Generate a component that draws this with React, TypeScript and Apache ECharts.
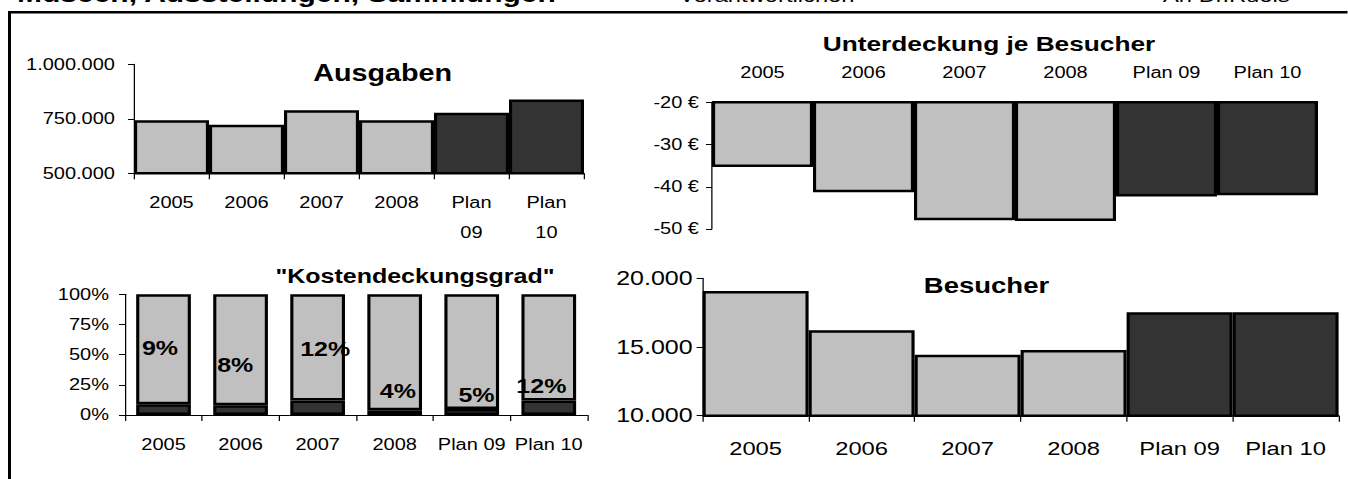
import React, { useEffect, useRef } from "react";
import * as echarts from "echarts";

// ---------- data ----------
const categories = ["2005", "2006", "2007", "2008", "Plan 09", "Plan 10"];
const ausgaben = [743000, 723000, 789000, 743000, 778000, 838000];
const unterdeckungJeBesucher = [-35.3, -41.3, -47.9, -48.1, -42.3, -42.0];
const kostendeckungsgrad = [9, 8, 12, 4, 5, 12];
const ungedeckt = [91, 92, 88, 96, 95, 88];
const besucher = [19075, 16215, 14440, 14780, 17525, 17525];

const headerTitle = "Museen, Ausstellungen, Sammlungen";
const headerMiddle = "Verantwortlichen";
const headerRight = "An Dr.Ruels";

// ---------- styling ----------
const S = 1.25; // horizontal stretch of the original picture
const W = 1348 / S;
const H = 479;
const X = (v: number) => v / S;
const FONT = "'Liberation Sans', Arial, Helvetica, sans-serif";
const LIGHT = "#C0C0C0";
const DARK = "#333333";
const BLACK = "#000000";

// label placement for "Kostendeckungsgrad" (real px: dx from bar centre, dy from 100% line)
const KD_LABEL_DX = [-3.6, -5.3, 7.6, 3.2, 4.7, -7.4];
const KD_LABEL_DY = [54, 70.7, 54.7, 97.4, 101.4, 92.4];

const thousands = (v: number) =>
  String(Math.round(v)).replace(/\B(?=(\d{3})+(?!\d))/g, ".");

const barColor = (p: any) =>
  categories[p.dataIndex].startsWith("Plan") ? DARK : LIGHT;

const barItem = {
  color: barColor,
  borderColor: BLACK,
  borderWidth: 2.5,
};

const catAxisBase = (gridIndex: number) => ({
  gridIndex,
  type: "category" as const,
  data: categories,
  boundaryGap: true,
  axisLine: { show: true, onZero: false, lineStyle: { color: BLACK, width: 1 } },
  axisTick: { show: true, length: 6, interval: 0, lineStyle: { color: BLACK, width: 1 } },
  splitLine: { show: false },
});

const valAxisBase = (gridIndex: number) => ({
  gridIndex,
  type: "value" as const,
  splitLine: { show: false },
  axisLine: { show: true, lineStyle: { color: BLACK, width: 1 } },
  axisTick: { show: true, length: X(6), lineStyle: { color: BLACK, width: 1 } },
});

const option: any = {
  animation: false,
  backgroundColor: "#ffffff",
  textStyle: { fontFamily: FONT, color: BLACK },
  grid: [
    { left: X(134), top: 64.3, width: X(450), height: 109, containLabel: false },
    { left: X(712), top: 102.3, width: X(606), height: 126.7, containLabel: false },
    { left: X(125), top: 294.3, width: X(462.3), height: 120.7, containLabel: false },
    { left: X(702.6), top: 278.3, width: X(636), height: 137.4, containLabel: false },
  ],
  xAxis: [
    {
      ...catAxisBase(0),
      axisLabel: {
        interval: 0,
        formatter: (v: string) => v.replace(" ", "\n"),
        fontSize: 16,
        lineHeight: 30,
        margin: 14,
        color: BLACK,
        fontFamily: FONT,
      },
    },
    {
      ...catAxisBase(1),
      position: "top",
      axisLine: { show: false },
      axisTick: { show: false },
      axisLabel: { interval: 0, fontSize: 16, lineHeight: 16, margin: 21.6, color: BLACK, fontFamily: FONT },
    },
    {
      ...catAxisBase(2),
      axisLabel: { interval: 0, fontSize: 16, lineHeight: 16, margin: 22, color: BLACK, fontFamily: FONT },
    },
    {
      ...catAxisBase(3),
      axisLabel: { interval: 0, fontSize: 19, lineHeight: 19, margin: 24, color: BLACK, fontFamily: FONT },
    },
  ],
  yAxis: [
    {
      ...valAxisBase(0),
      min: 500000,
      max: 1000000,
      interval: 250000,
      axisLabel: { formatter: thousands, fontSize: 16, margin: X(19), color: BLACK, fontFamily: FONT },
    },
    {
      ...valAxisBase(1),
      min: -50,
      max: -20,
      interval: 10,
      axisLabel: { formatter: (v: number) => `${v} €`, fontSize: 16, margin: X(13), color: BLACK, fontFamily: FONT },
    },
    {
      ...valAxisBase(2),
      min: 0,
      max: 100,
      interval: 25,
      axisLabel: { formatter: "{value}%", fontSize: 16, margin: X(16), color: BLACK, fontFamily: FONT },
    },
    {
      ...valAxisBase(3),
      min: 10000,
      max: 20000,
      interval: 5000,
      axisLabel: { formatter: thousands, fontSize: 20, margin: X(10), color: BLACK, fontFamily: FONT },
    },
  ],
  series: [
    {
      name: "Ausgaben",
      type: "bar",
      xAxisIndex: 0,
      yAxisIndex: 0,
      data: ausgaben,
      barCategoryGap: "0%",
      itemStyle: barItem,
    },
    {
      name: "Unterdeckung je Besucher",
      type: "bar",
      xAxisIndex: 1,
      yAxisIndex: 1,
      data: unterdeckungJeBesucher,
      barCategoryGap: "0%",
      clip: true,
      itemStyle: barItem,
    },
    {
      name: "Kostendeckungsgrad",
      type: "bar",
      xAxisIndex: 2,
      yAxisIndex: 2,
      stack: "kd",
      data: kostendeckungsgrad,
      barCategoryGap: "29%",
      itemStyle: { color: DARK, borderColor: BLACK, borderWidth: 2.5 },
    },
    {
      name: "ungedeckt",
      type: "bar",
      xAxisIndex: 2,
      yAxisIndex: 2,
      stack: "kd",
      barCategoryGap: "29%",
      itemStyle: { color: LIGHT, borderColor: BLACK, borderWidth: 2.5 },
      data: ungedeckt.map((v, i) => ({
        value: v,
        label: {
          show: true,
          position: ["50%", KD_LABEL_DY[i]],
          offset: [X(KD_LABEL_DX[i]), 0],
          align: "center",
          verticalAlign: "middle",
          formatter: () => `${kostendeckungsgrad[i]}%`,
          fontSize: 20,
          fontWeight: "bold",
          color: BLACK,
          fontFamily: FONT,
        },
      })),
    },
    {
      name: "Besucher",
      type: "bar",
      xAxisIndex: 3,
      yAxisIndex: 3,
      data: besucher,
      barCategoryGap: "0%",
      itemStyle: barItem,
    },
  ],
  graphic: [
    // frame
    { type: "line", shape: { x1: X(9.5), y1: 12.3, x2: X(9.5), y2: 500 }, style: { stroke: BLACK, lineWidth: 3 / S } },
    { type: "line", shape: { x1: X(8), y1: 12.3, x2: W + 10, y2: 12.3 }, style: { stroke: BLACK, lineWidth: 2.6 } },
    // header (cut off at the top, as in the original)
    {
      type: "text",
      x: X(17),
      y: -6,
      style: { text: headerTitle, font: `bold 24px ${FONT}`, fill: BLACK, align: "left", verticalAlign: "middle" },
    },
    {
      type: "text",
      x: X(679),
      y: -4,
      style: { text: headerMiddle, font: `19px ${FONT}`, fill: BLACK, align: "left", verticalAlign: "middle" },
    },
    {
      type: "text",
      x: X(1163),
      y: -4,
      style: { text: headerRight, font: `19px ${FONT}`, fill: BLACK, align: "left", verticalAlign: "middle" },
    },
    // chart titles
    {
      type: "text",
      x: X(382.7),
      y: 72.7,
      style: { text: "Ausgaben", font: `bold 23px ${FONT}`, fill: BLACK, align: "center", verticalAlign: "middle" },
    },
    {
      type: "text",
      x: X(989),
      y: 43.3,
      style: { text: "Unterdeckung je Besucher", font: `bold 21px ${FONT}`, fill: BLACK, align: "center", verticalAlign: "middle" },
    },
    {
      type: "text",
      x: X(415),
      y: 276,
      style: { text: "\"Kostendeckungsgrad\"", font: `bold 20px ${FONT}`, fill: BLACK, align: "center", verticalAlign: "middle" },
    },
    {
      type: "text",
      x: X(986.5),
      y: 285,
      style: { text: "Besucher", font: `bold 22px ${FONT}`, fill: BLACK, align: "center", verticalAlign: "middle" },
    },
  ],
};

export default function App() {
  const ref = useRef<HTMLDivElement>(null);
  useEffect(() => {
    if (!ref.current) return;
    const chart = echarts.init(ref.current, null, { renderer: "svg", width: W, height: H });
    chart.setOption(option);
    return () => chart.dispose();
  }, []);
  return (
    <div
      ref={ref}
      style={{
        position: "absolute",
        left: 0,
        top: 0,
        width: W,
        height: H,
        transform: `scaleX(${S})`,
        transformOrigin: "0 0",
        background: "#fff",
      }}
    />
  );
}
